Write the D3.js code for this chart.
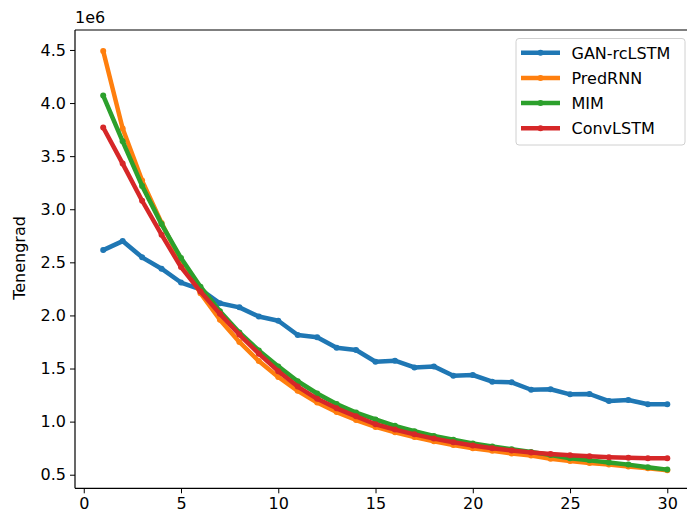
<!DOCTYPE html>
<html>
<head>
<meta charset="utf-8">
<script src="https://cdn.jsdelivr.net/npm/d3@7"></script>
<style>
  html, body { margin: 0; padding: 0; background: #fff; }
  svg { display: block; font-family: "DejaVu Sans", sans-serif; }
</style>
</head>
<body>
<div id="chart"></div>
<script>
// ---- data (values in units of 1e6) ----
const epochs = d3.range(1, 31);
const seriesNames = ["GAN-rcLSTM", "PredRNN", "MIM", "ConvLSTM"];
const seriesColors = ["#1f77b4", "#ff7f0e", "#2ca02c", "#d62728"];
const ganRcLSTM = [2.615, 2.70, 2.547, 2.44, 2.31, 2.246, 2.114, 2.076, 1.99, 1.95,
                   1.816, 1.795, 1.696, 1.674, 1.564, 1.574, 1.51, 1.52, 1.432, 1.439,
                   1.376, 1.37, 1.30, 1.305, 1.257, 1.26, 1.194, 1.203, 1.163, 1.163];
const predRNN   = [4.49, 3.76, 3.27, 2.87, 2.51, 2.21, 1.96, 1.75, 1.57, 1.42,
                   1.29, 1.18, 1.09, 1.015, 0.95, 0.90, 0.855, 0.815, 0.78, 0.75,
                   0.725, 0.70, 0.68, 0.65, 0.63, 0.61, 0.595, 0.578, 0.56, 0.542];
const mim       = [4.07, 3.64, 3.22, 2.86, 2.54, 2.27, 2.04, 1.84, 1.67, 1.52,
                   1.38, 1.265, 1.165, 1.085, 1.02, 0.96, 0.91, 0.865, 0.83, 0.795,
                   0.765, 0.74, 0.715, 0.685, 0.655, 0.635, 0.615, 0.595, 0.57, 0.548];
const convLSTM  = [3.77, 3.43, 3.08, 2.76, 2.455, 2.225, 2.015, 1.82, 1.64, 1.475,
                   1.33, 1.215, 1.125, 1.05, 0.975, 0.925, 0.88, 0.84, 0.805, 0.775,
                   0.75, 0.728, 0.71, 0.695, 0.684, 0.673, 0.665, 0.66, 0.656, 0.654];
const seriesValues = [ganRcLSTM, predRNN, mim, convLSTM];
const xTicks = [0, 5, 10, 15, 20, 25, 30];
const yTicks = [0.5, 1.0, 1.5, 2.0, 2.5, 3.0, 3.5, 4.0, 4.5];
const yLabel = "Tenengrad";
const offsetLabel = "1e6";

(function () {
// ---- layout ----
const W = 687, H = 515;
const mLeft = 75, mRight = 695.5, mTop = 30, mBottom = 488.3;

const svg = d3.select("#chart").append("svg")
  .attr("width", W).attr("height", H);

const x = d3.scaleLinear().domain([-0.45, 31.45]).range([mLeft, mRight]);
const y = d3.scaleLinear().domain([0.372, 4.688]).range([mBottom, mTop]);

svg.append("defs").append("clipPath").attr("id", "clip")
  .append("rect").attr("x", mLeft).attr("y", mTop)
  .attr("width", mRight - mLeft).attr("height", mBottom - mTop);

const fontSize = 16;
const xAxis = d3.axisBottom(x).tickValues(xTicks).tickFormat(d3.format("d"))
  .tickSize(5).tickPadding(4);
const yAxis = d3.axisLeft(y).tickValues(yTicks).tickFormat(d3.format(".1f"))
  .tickSize(5).tickPadding(4);

const gx = svg.append("g").attr("transform", `translate(0,${mBottom})`).call(xAxis);
const gy = svg.append("g").attr("transform", `translate(${mLeft},0)`).call(yAxis);
[gx, gy].forEach(g => {
  g.select(".domain").remove();
  g.selectAll(".tick line").attr("stroke", "#000").attr("stroke-width", 1);
  g.selectAll(".tick text").attr("fill", "#000")
    .style("font-size", fontSize + "px")
    .style("font-family", "'DejaVu Sans', sans-serif");
});

// spines
svg.append("line").attr("x1", mLeft).attr("x2", mLeft).attr("y1", mTop).attr("y2", mBottom)
  .attr("stroke", "#000").attr("stroke-width", 1.2);
svg.append("line").attr("x1", mLeft).attr("x2", mRight).attr("y1", mBottom).attr("y2", mBottom)
  .attr("stroke", "#000").attr("stroke-width", 1.2);
svg.append("line").attr("x1", mLeft).attr("x2", mRight).attr("y1", mTop).attr("y2", mTop)
  .attr("stroke", "#000").attr("stroke-width", 1.2);

svg.append("text").attr("x", mLeft).attr("y", 23)
  .style("font-size", fontSize + "px").text(offsetLabel);
svg.append("text")
  .attr("transform", `translate(25,258) rotate(-90)`)
  .attr("text-anchor", "middle")
  .style("font-size", fontSize + "px").text(yLabel);

const line = d3.line().x((d, i) => x(epochs[i])).y(d => y(d));
const plot = svg.append("g").attr("clip-path", "url(#clip)");
seriesValues.forEach((vals, si) => {
  const g = plot.append("g");
  g.append("path").datum(vals)
    .attr("d", line)
    .attr("fill", "none")
    .attr("stroke", seriesColors[si])
    .attr("stroke-width", 4.5)
    .attr("stroke-linejoin", "round")
    .attr("stroke-linecap", "round");
  g.selectAll("circle").data(vals).enter().append("circle")
    .attr("cx", (d, i) => x(epochs[i]))
    .attr("cy", d => y(d))
    .attr("r", 3)
    .attr("fill", seriesColors[si]);
});

const lg = svg.append("g");
lg.append("rect").attr("x", 516).attr("y", 38.5).attr("width", 169).attr("height", 106.5)
  .attr("rx", 3).attr("fill", "#fff").attr("fill-opacity", 0.8)
  .attr("stroke", "#d0d0d0").attr("stroke-width", 1);
seriesNames.forEach((name, i) => {
  const cy = 52.7 + i * 25.2;
  lg.append("line").attr("x1", 521).attr("x2", 560).attr("y1", cy).attr("y2", cy)
    .attr("stroke", seriesColors[i]).attr("stroke-width", 4.5);
  lg.append("circle").attr("cx", 540.5).attr("cy", cy).attr("r", 3).attr("fill", seriesColors[i]);
  lg.append("text").attr("x", 571.5).attr("y", cy + 6)
    .style("font-size", fontSize + "px").text(name);
});
})();
</script>
</body>
</html>
